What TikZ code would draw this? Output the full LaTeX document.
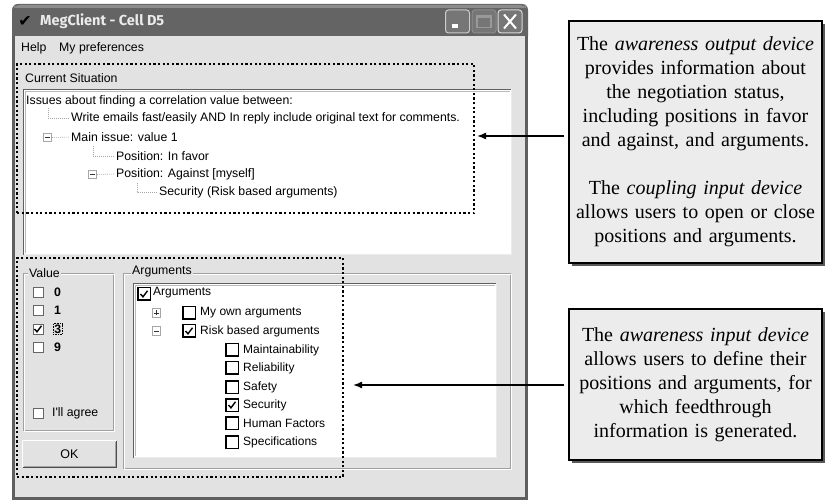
\documentclass[tikz,border=0pt]{standalone}
\usepackage{fontspec}
\setmainfont{Liberation Serif}
\newfontfamily\uifont{Liberation Sans}
\newfontfamily\titlefont{Fira Sans}
\newfontfamily\symfont{DejaVu Sans}
\usetikzlibrary{arrows.meta,shadows}
\definecolor{winbg}{RGB}{226,226,226}
\definecolor{frame}{RGB}{95,95,95}
\definecolor{boxfill}{RGB}{236,236,236}
\definecolor{etch}{RGB}{160,160,160}
\definecolor{tbar}{RGB}{100,100,100}
\definecolor{tbarhi}{RGB}{140,140,140}
\definecolor{btnfill}{RGB}{118,118,118}
\tikzset{
  ui/.style={font=\uifont\fontsize{12.3}{14}\selectfont, inner sep=0pt, anchor=west, text=black},
  uib/.style={font=\uifont\bfseries\fontsize{12.3}{14}\selectfont, inner sep=0pt, anchor=west, text=black},
  li/.style={font=\uifont\fontsize{12}{14}\selectfont, inner sep=0pt, anchor=west, text=black},
  vchk/.style={draw=gray!80!black, fill=white, minimum size=10pt, inner sep=0pt, line width=0.7pt},
  lchk/.style={draw=black, fill=white, minimum size=12.5pt, inner sep=0pt, line width=1.5pt},
  expander/.style={draw=gray!70, fill=white, minimum size=8.5pt, inner sep=0pt, line width=0.6pt},
  exglyph/.style={draw=black!80, line width=0.7pt},
  tree/.style={draw=gray!70, dash pattern=on 1pt off 1pt, line width=0.6pt},
  focusbox/.style={draw=black, dash pattern=on 0.8pt off 0.8pt, line width=0.5pt},
  tick/.style={draw=black, line width=1.4pt},
  callout/.style={draw=black, line width=1.3pt, fill=boxfill, align=center,
    font=\fontsize{20}{24}\selectfont, text width=250pt, minimum width=253pt, inner sep=0pt,
    drop shadow={shadow xshift=3pt, shadow yshift=-3pt, fill=black!65, opacity=1}},
  hl/.style={draw=black, line width=2.2pt, dash pattern=on 2.2pt off 2.4pt, inner sep=0pt, anchor=north west},
  pointer/.style={-{Latex[length=9pt,width=7pt]}, line width=1.5pt, shorten <=4pt},
  wbtn/.style={minimum width=24pt, minimum height=23pt, rounded corners=3pt, inner sep=0pt, line width=1pt, fill=btnfill},
  groupbox/.style={draw=etch, line width=0.8pt},
  grouplbl/.style={font=\uifont\fontsize{12.3}{14}\selectfont, inner sep=1pt, anchor=west, fill=winbg},
  okbtn/.style={fill=winbg, minimum width=93pt, minimum height=26pt, inner sep=0pt,
    font=\uifont\fontsize{12.5}{14}\selectfont},
}
\newcommand\checkin[1]{\draw[tick] ([shift={(-3.5,0)}]#1.center) -- ++(2.5,2.8) -- ++(4.5,-6);}
\begin{document}
\begin{tikzpicture}[x=1pt,y=-1pt]
\useasboundingbox[fill=white] (0,0) rectangle (827,502);

% ---------------- window -----------------
\fill[tbar, rounded corners=6pt] (12,4) rectangle (528,42);
\fill[tbarhi, rounded corners=5pt] (14,5) rectangle (526,9);
\fill[tbar] (14,8) rectangle (526,12);
\fill[winbg] (13,36) rectangle (527,499);
\draw[frame, line width=3pt] (13.5,36) -- (13.5,498.5) -- (526.5,498.5) -- (526.5,36);

% title bar content
\node[font=\symfont\fontsize{16}{16}\selectfont, inner sep=0pt] (appicon) at (25,21) {✔};
\node[font=\titlefont\bfseries\fontsize{14.5}{16}\selectfont, text=white!92!black, inner sep=0pt, anchor=west] (title) at (40,21) {MegClient - Cell D5};

\node[wbtn, draw=white!80!black] (bmin) at (457.5,21.5) {};
\fill[white] ([shift={(-6,3)}]bmin.center) rectangle ([shift={(0,6.5)}]bmin.center);
\node[wbtn, draw=gray!90] (bmax) at (484,21.5) {};
\draw[gray!80, line width=1.2pt] ([shift={(-7,-6)}]bmax.center) rectangle ([shift={(7,6)}]bmax.center);
\draw[gray!80, line width=2.2pt] ([shift={(-7,-5)}]bmax.center) -- ([shift={(7,-5)}]bmax.center);
\node[wbtn, draw=white!85!black] (bclose) at (510,21.5) {};
\draw[white, line width=2pt] ([shift={(-6,-7)}]bclose.center) -- ([shift={(6,7)}]bclose.center);
\draw[white, line width=2pt] ([shift={(-6,7)}]bclose.center) -- ([shift={(6,-7)}]bclose.center);

% menu
\node[ui] (mhelp) at (21,48) {Help};
\node[ui] (mpref) at (59,48) {My preferences};

% ---------------- current situation -----------------
\node[ui] (cs) at (25,78) {Current Situation};
\fill[white] (23,89) rectangle (512,255);
\draw[gray!75!black, line width=0.8pt] (23.5,255) -- (23.5,89.5) -- (512,89.5);
\draw[white!85!gray, line width=1pt] (23.5,254.5) -- (511.5,254.5) -- (511.5,89.5);
\draw[gray!55, line width=0.8pt] (25,253) -- (25,91) -- (510,91);

\node[ui] (root) at (26,101) {Issues about finding a correlation value between:};
\node[ui] (wr) at (71,118.5) {Write emails fast/easily AND In reply include original text for comments.};
\node[expander] (m1) at (47.5,137.5) {};
\draw[exglyph] ([xshift=-2.5pt]m1.center) -- ([xshift=2.5pt]m1.center);
\node[ui] (mi) at (71,137) {Main issue: value 1};
\node[ui] (pf) at (116,156) {Position: In favor};
\node[expander] (m2) at (92.5,174.5) {};
\draw[exglyph] ([xshift=-2.5pt]m2.center) -- ([xshift=2.5pt]m2.center);
\node[ui] (pa) at (116,174) {Position: Against [myself]};
\node[ui] (sec) at (159,192) {Security (Risk based arguments)};

\coordinate (r1) at (48,108);
\coordinate (r2) at (93,146);
\coordinate (r3) at (137,183);
\draw[tree, shorten >=1.5pt] (r1) |- (wr.west);
\draw[tree, shorten >=1.5pt] (m1.east) -- (mi.west);
\draw[tree, shorten >=1.5pt] (r2) |- (pf.west);
\draw[tree, shorten >=1.5pt] (m2.east) -- (pa.west);
\draw[tree, shorten >=1.5pt] (r3) |- (sec.west);

% ---------------- value group -----------------
\draw[groupbox] (23,273) rectangle (113,430);
\draw[white, line width=0.8pt] (24,274) rectangle (114,431);
\node[grouplbl] (gval) at (28,273) {Value};

\node[vchk] (v0) at (38,292) {};
\node[vchk] (v1) at (38,310) {};
\node[vchk] (v3) at (38,329) {};
\node[vchk] (v9) at (38,347) {};
\node[vchk] (vag) at (38,413) {};
\checkin{v3}
\node[uib] (l0) at (54,292) {0};
\node[uib] (l1) at (54,310) {1};
\node[uib, focusbox, inner sep=1pt] (l3) at (53,329) {3};
\node[uib] (l9) at (54,347) {9};
\node[ui] (lag) at (52,413) {I'll agree};

\node[okbtn] (ok) at (69.5,454) {OK};
\draw[white, line width=1pt] (ok.south west) -- (ok.north west) -- (ok.north east);
\draw[black!70, line width=1pt] (ok.south west) -- (ok.south east) -- (ok.north east);
\draw[gray!70, line width=0.8pt] ([shift={(1,-1.2)}]ok.south west) -- ([shift={(-1.2,-1.2)}]ok.south east) -- ([shift={(-1.2,1)}]ok.north east);

% ---------------- arguments group -----------------
\draw[groupbox] (123,273) rectangle (510,468);
\draw[white, line width=0.8pt] (124,274) rectangle (511,469);
\node[grouplbl] (garg) at (131,272) {Arguments};

\fill[white] (133,283) rectangle (497,458);
\draw[gray!75!black, line width=0.8pt] (133.5,458) -- (133.5,283.5) -- (497,283.5);
\draw[gray!55, line width=0.8pt] (135,456) -- (135,285) -- (495,285);
\draw[white!85!gray, line width=1pt] (133.5,457.5) -- (496.5,457.5) -- (496.5,283.5);

\node[lchk] (ca) at (144,294) {};
\checkin{ca}
\node[li] (ta) at (153,293) {Arguments};

\node[expander] (ex1) at (156.5,313) {};
\draw[exglyph] ([xshift=-2.5pt]ex1.center) -- ([xshift=2.5pt]ex1.center);
\draw[exglyph] ([yshift=-2.5pt]ex1.center) -- ([yshift=2.5pt]ex1.center);
\node[lchk] (cmy) at (189,313) {};
\node[li] (tmy) at (200,313) {My own arguments};

\node[expander] (ex2) at (156.5,331) {};
\draw[exglyph] ([xshift=-2.5pt]ex2.center) -- ([xshift=2.5pt]ex2.center);
\node[lchk] (crisk) at (189,331) {};
\checkin{crisk}
\node[li] (trisk) at (200,331) {Risk based arguments};

\node[lchk] (c1) at (232,350) {};
\node[li] (t1) at (243,350) {Maintainability};
\node[lchk] (c2) at (232,368) {};
\node[li] (t2) at (243,368) {Reliability};
\node[lchk] (c3) at (232,387) {};
\node[li] (t3) at (243,387) {Safety};
\node[lchk] (c4) at (232,405) {};
\checkin{c4}
\node[li] (t4) at (243,405) {Security};
\node[lchk] (c5) at (232,423) {};
\node[li] (t5) at (243,423) {Human Factors};
\node[lchk] (c6) at (232,442) {};
\node[li] (t6) at (243,442) {Specifications};

% ---------------- highlight rectangles -----------------
\node[hl, minimum width=457pt, minimum height=149pt] (hl1) at (16,63) {};
\node[hl, minimum width=326pt, minimum height=219pt] (hl2) at (16,257) {};

% ---------------- callouts -----------------
\node[callout, minimum height=242pt] (box1) at (695.5,142) {The \textit{awareness output device}\\
provides information about\\
the negotiation status,\\
including positions in favor\\
and against, and arguments.\\[24pt]
The \textit{coupling input device}\\
allows users to open or close\\
positions and arguments.};

\node[callout, minimum height=151pt] (box2) at (695.5,384.5) {The \textit{awareness input device}\\
allows users to define their\\
positions and arguments, for\\
which feedthrough\\
information is generated.};

\coordinate (a1) at (477,136);
\coordinate (a2) at (353,385);
\draw[pointer] (box1.west |- a1) -- (a1);
\draw[pointer] (box2.west |- a2) -- (a2);
\end{tikzpicture}
\end{document}
